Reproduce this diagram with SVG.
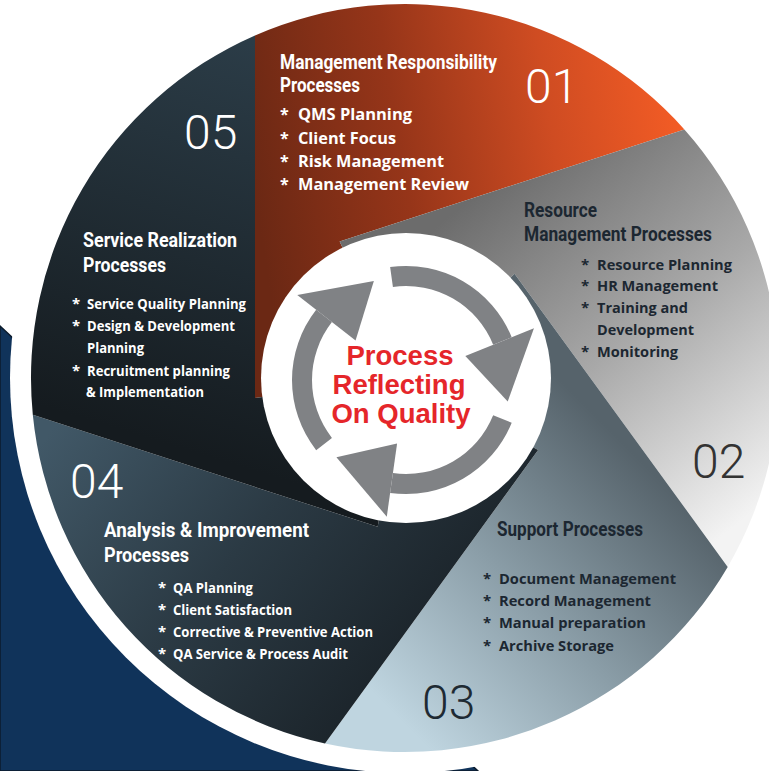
<svg xmlns="http://www.w3.org/2000/svg" width="769" height="771" viewBox="0 0 769 771">
<defs>
<style>
.hd{font-family:Roboto,"Liberation Sans",sans-serif;font-weight:700;font-size:20.5px}
.bl{font-family:"Open Sans","Liberation Sans",sans-serif;font-weight:700;font-size:15px}
.b1{font-size:16px}
.num{font-family:Roboto,"Liberation Sans",sans-serif;font-weight:300;font-size:48px}
.w{fill:#ffffff}
.d{fill:#1c2731}
.ctr{font-family:"Liberation Sans",Arial,sans-serif;font-weight:700;font-size:27.5px;fill:#e5262a;text-anchor:middle}
.arr{fill:#808285}
</style>
<linearGradient id="g01" gradientUnits="userSpaceOnUse" x1="255" y1="200" x2="684" y2="130">
<stop offset="0" stop-color="#6b2814"/><stop offset="0.35" stop-color="#963519"/><stop offset="0.7" stop-color="#cf4c22"/><stop offset="1" stop-color="#f35c25"/>
</linearGradient>
<linearGradient id="g02" gradientUnits="userSpaceOnUse" x1="470" y1="200" x2="730" y2="530">
<stop offset="0" stop-color="#6c6c6c"/><stop offset="0.5" stop-color="#a9a9a9"/><stop offset="1" stop-color="#f3f3f3"/>
</linearGradient>
<linearGradient id="g03" gradientUnits="userSpaceOnUse" x1="400" y1="720" x2="650" y2="470">
<stop offset="0" stop-color="#bfd5e0"/><stop offset="0.5" stop-color="#8a9da7"/><stop offset="1" stop-color="#56636b"/>
</linearGradient>
<linearGradient id="g04" gradientUnits="userSpaceOnUse" x1="60" y1="420" x2="400" y2="700">
<stop offset="0" stop-color="#415867"/><stop offset="0.5" stop-color="#2b3a44"/><stop offset="1" stop-color="#1a2228"/>
</linearGradient>
<linearGradient id="g05" gradientUnits="userSpaceOnUse" x1="240" y1="40" x2="120" y2="430">
<stop offset="0" stop-color="#2b3c47"/><stop offset="1" stop-color="#151b1f"/>
</linearGradient>
</defs>

<g id="background">
<rect x="0" y="0" width="769" height="771" fill="#ffffff"/>
<polygon points="0,326 478,771 0,771" fill="#10335a" stroke="#0b1b2c" stroke-width="1.5"/>
<circle cx="405" cy="378" r="395" fill="#ffffff"/>
</g>

<g id="seg01">
<path d="M405,378 L255,398 L255,35.4 A374,374 0 0,1 684.4,129.4 L339.63,241.52 Z" fill="url(#g01)"/>
<text class="num w" x="525" y="103">01</text>
<text class="hd w" x="280" y="68.5" textLength="217" lengthAdjust="spacingAndGlyphs">Management Responsibility</text>
<text class="hd w" x="280" y="92" textLength="80" lengthAdjust="spacingAndGlyphs">Processes</text>
<g class="bl b1 w">
<text x="280" y="119.5">*</text><text x="298" y="119.5" textLength="114" lengthAdjust="spacingAndGlyphs">QMS Planning</text>
<text x="280" y="143.5">*</text><text x="298" y="143.5" textLength="98" lengthAdjust="spacingAndGlyphs">Client Focus</text>
<text x="280" y="166.5">*</text><text x="298" y="166.5" textLength="146" lengthAdjust="spacingAndGlyphs">Risk Management</text>
<text x="280" y="189.5">*</text><text x="298" y="189.5" textLength="171" lengthAdjust="spacingAndGlyphs">Management Review</text>
</g>
</g>

<g id="seg02">
<path d="M405,378 L339.63,241.52 L684.4,129.4 A374,374 0 0,1 727.7,566.9 L514.59,273.65 Z" fill="url(#g02)"/>
<text class="num" fill="#333333" x="692" y="478">02</text>
<text class="hd d" x="524" y="217" textLength="73" lengthAdjust="spacingAndGlyphs">Resource</text>
<text class="hd d" x="524" y="241" textLength="188" lengthAdjust="spacingAndGlyphs">Management Processes</text>
<g class="bl d">
<text x="581" y="269.5">*</text><text x="597" y="269.5" textLength="135" lengthAdjust="spacingAndGlyphs">Resource Planning</text>
<text x="581" y="290.5">*</text><text x="597" y="290.5" textLength="121" lengthAdjust="spacingAndGlyphs">HR Management</text>
<text x="581" y="312.5">*</text><text x="597" y="312.5" textLength="91" lengthAdjust="spacingAndGlyphs">Training and</text>
<text x="597" y="334.5" textLength="97" lengthAdjust="spacingAndGlyphs">Development</text>
<text x="581" y="356.5">*</text><text x="597" y="356.5" textLength="81" lengthAdjust="spacingAndGlyphs">Monitoring</text>
</g>
</g>

<g id="seg03">
<path d="M405,378 L514.59,273.65 L727.7,566.9 A374,374 0 0,1 325,743.4 L538.11,449.99 Z" fill="url(#g03)"/>
<text class="num" fill="#1e2a33" x="422" y="719">03</text>
<text class="hd d" x="497" y="536" textLength="146" lengthAdjust="spacingAndGlyphs">Support Processes</text>
<g class="bl d">
<text x="483" y="584">*</text><text x="499" y="584" textLength="177" lengthAdjust="spacingAndGlyphs">Document Management</text>
<text x="483" y="606">*</text><text x="499" y="606" textLength="152" lengthAdjust="spacingAndGlyphs">Record Management</text>
<text x="483" y="628">*</text><text x="499" y="628" textLength="147" lengthAdjust="spacingAndGlyphs">Manual preparation</text>
<text x="483" y="650.5">*</text><text x="499" y="650.5" textLength="115" lengthAdjust="spacingAndGlyphs">Archive Storage</text>
</g>
</g>

<g id="seg04">
<path d="M405,378 L538.11,449.99 L325,743.4 A374,374 0 0,1 32.8,414.8 L377.67,526.84 Z" fill="url(#g04)"/>
<text class="num w" x="70" y="498">04</text>
<text class="hd w" x="104" y="536.7" textLength="205" lengthAdjust="spacingAndGlyphs">Analysis &amp; Improvement</text>
<text class="hd w" x="104" y="561.5" textLength="85" lengthAdjust="spacingAndGlyphs">Processes</text>
<g class="bl w">
<text x="158" y="593">*</text><text x="173" y="593" textLength="80" lengthAdjust="spacingAndGlyphs">QA Planning</text>
<text x="158" y="614.5">*</text><text x="173" y="614.5" textLength="119" lengthAdjust="spacingAndGlyphs">Client Satisfaction</text>
<text x="158" y="637">*</text><text x="173" y="637" textLength="200" lengthAdjust="spacingAndGlyphs">Corrective &amp; Preventive Action</text>
<text x="158" y="659">*</text><text x="173" y="659" textLength="175" lengthAdjust="spacingAndGlyphs">QA Service &amp; Process Audit</text>
</g>
</g>

<g id="seg05">
<path d="M405,378 L377.67,526.84 L32.8,414.8 A374,374 0 0,1 255,35.4 L255,398 Z" fill="url(#g05)"/>
<text class="num w" x="184" y="149">05</text>
<text class="hd w" x="83" y="247" textLength="154" lengthAdjust="spacingAndGlyphs">Service Realization</text>
<text class="hd w" x="83" y="271.5" textLength="83" lengthAdjust="spacingAndGlyphs">Processes</text>
<g class="bl w">
<text x="72" y="309">*</text><text x="87" y="309" textLength="159" lengthAdjust="spacingAndGlyphs">Service Quality Planning</text>
<text x="72" y="331">*</text><text x="87" y="331" textLength="148" lengthAdjust="spacingAndGlyphs">Design &amp; Development</text>
<text x="87" y="353" textLength="57" lengthAdjust="spacingAndGlyphs">Planning</text>
<text x="72" y="375.5">*</text><text x="87" y="375.5" textLength="143" lengthAdjust="spacingAndGlyphs">Recruitment planning</text>
<text x="86" y="397" textLength="118" lengthAdjust="spacingAndGlyphs">&amp; Implementation</text>
</g>
</g>

<g id="center">
<circle cx="406" cy="378" r="145" fill="#ffffff"/>
<text class="ctr" x="400" y="365">Process</text>
<text class="ctr" x="399" y="394">Reflecting</text>
<text class="ctr" x="401" y="423">On Quality</text>
</g>

<g id="connectors" class="arr">
<path d="M390.13,267.11 A114,114 0 0,1 511.70,337.30 L493.16,344.79 A94,94 0 0,0 392.92,286.91 Z"/>
<polygon points="465.34,356.03 533.95,328.31 507.73,401.62"/>
<path d="M511.70,422.70 A114,114 0 0,1 390.13,492.89 L392.92,473.09 A94,94 0 0,0 493.16,415.21 Z"/>
<polygon points="397.09,443.38 386.79,516.66 336.41,457.28"/>
<path d="M316.17,450.19 A114,114 0 0,1 316.17,309.81 L331.93,322.12 A94,94 0 0,0 331.93,437.88 Z"/>
<polygon points="355.57,340.60 297.26,295.03 373.86,281.09"/>
</g>
</svg>
